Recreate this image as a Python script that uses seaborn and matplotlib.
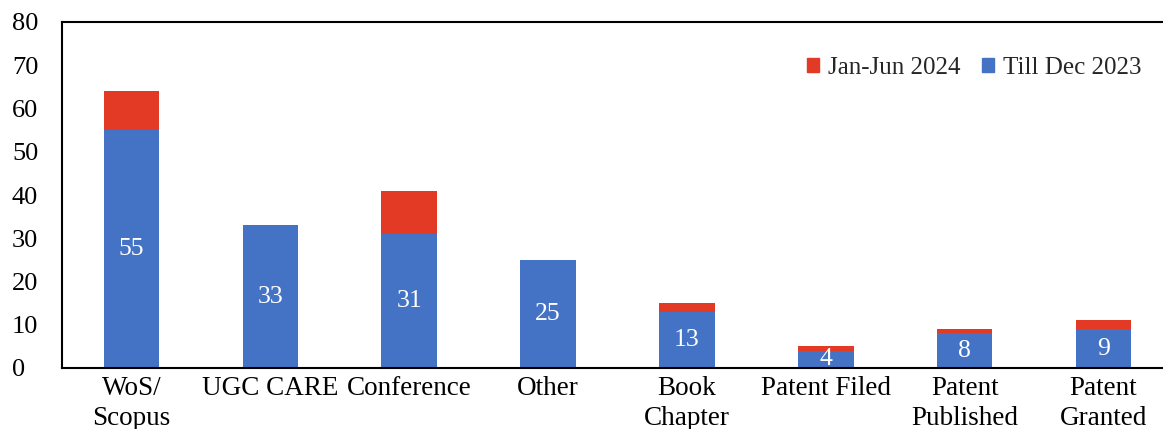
import matplotlib
matplotlib.use("Agg")
import matplotlib.pyplot as plt
import seaborn as sns
import pandas as pd
from matplotlib.patches import Patch

categories = ["WoS/\nScopus", "UGC CARE", "Conference", "Other", "Book\nChapter",
              "Patent Filed", "Patent\nPublished", "Patent\nGranted"]
till_dec_2023 = [55, 33, 31, 25, 13, 4, 8, 9]
jan_jun_2024 = [9, 0, 10, 0, 2, 1, 1, 2]

blue = "#4472C4"
red = "#E33A25"

sns.set_theme(style="white")
plt.rcParams['font.family'] = ['Liberation Serif', 'DejaVu Serif']

df = pd.DataFrame({"cat": categories, "base": till_dec_2023,
                   "total": [a + b for a, b in zip(till_dec_2023, jan_jun_2024)]})

fig = plt.figure(figsize=(11.63, 4.29), dpi=100)
ax = fig.add_axes([62 / 1163, 61 / 429, (1173 - 62) / 1163, (368 - 22) / 429])

sns.barplot(data=df, x="cat", y="total", color=red, width=0.4, saturation=1,
            linewidth=0, ax=ax)
sns.barplot(data=df, x="cat", y="base", color=blue, width=0.4, saturation=1,
            linewidth=0, ax=ax)

for i, v in enumerate(till_dec_2023):
    ax.text(i, v / 2, str(v), ha="center", va="center", color="white", fontsize=18.5)

ax.set_ylim(0, 80)
ax.set_xlim(-0.5, len(categories) - 0.5)
ax.set_yticks(range(0, 81, 10))
ax.set_xlabel("")
ax.set_ylabel("")
ax.tick_params(axis="both", colors="black", length=0)
ax.tick_params(axis="y", labelsize=19, pad=36)
ax.tick_params(axis="x", labelsize=19.5, pad=6)
for lbl in ax.get_yticklabels():
    lbl.set_horizontalalignment("left")
for lbl in ax.get_xticklabels():
    lbl.set_linespacing(1.25)
for s in ax.spines.values():
    s.set_color("black")
    s.set_linewidth(1.5)

handles = [Patch(color=red, label="Jan-Jun 2024"), Patch(color=blue, label="Till Dec 2023")]
ax.legend(handles=handles, loc="upper right", bbox_to_anchor=((1164 - 62) / (1173 - 62), 0.965),
          ncol=2, frameon=False, fontsize=18, handlelength=0.5, handleheight=0.5,
          handletextpad=0.35, columnspacing=0.85)

fig.savefig("out.png", dpi=100)
